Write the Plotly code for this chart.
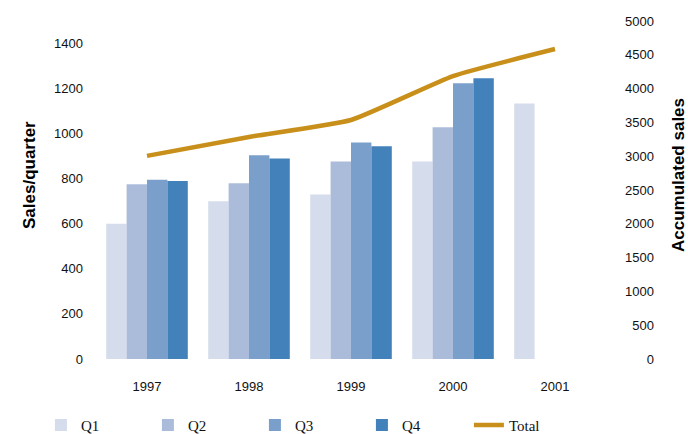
import plotly.graph_objects as go

years = ["1997", "1998", "1999", "2000", "2001"]
q1 = [600, 700, 730, 877, 1134]
q2 = [775, 780, 877, 1028, None]
q3 = [795, 904, 961, 1224, None]
q4 = [790, 890, 944, 1246, None]
total = [3005, 3285, 3535, 4185, 4585]

series_names = ["Q1", "Q2", "Q3", "Q4"]
bar_colors = ["#D5DCEC", "#ABBCDB", "#7B9FCB", "#4381BB"]
line_color = "#C8901A"

left_ticks = list(range(0, 1401, 200))
right_ticks = list(range(0, 5001, 500))

fig = go.Figure()
for name, vals, col in zip(series_names, [q1, q2, q3, q4], bar_colors):
    fig.add_trace(go.Bar(x=years, y=vals, name=name, marker=dict(color=col, line=dict(width=0))))

fig.add_trace(go.Scatter(x=years, y=total, name="Total", mode="lines", yaxis="y2",
                         line=dict(color=line_color, width=4.5, shape="spline", smoothing=0.45)))

tick_font = dict(family="Liberation Sans, Arial, sans-serif", size=13, color="#111111")

fig.update_layout(
    width=688, height=434,
    margin=dict(l=96, r=82, t=21, b=75, autoexpand=False),
    paper_bgcolor="white", plot_bgcolor="white",
    barmode="group", bargap=0.2, bargroupgap=0,
    showlegend=True,
    legend=dict(orientation="h", x=-0.108, xanchor="left", y=-0.196, yanchor="middle",
                entrywidth=62, entrywidthmode="pixels",
                font=dict(family="Liberation Serif, Times New Roman, serif", size=15, color="#111111"),
                bgcolor="rgba(0,0,0,0)"),
    xaxis=dict(type="category", showline=False, showgrid=False, zeroline=False, ticks="",
               tickfont=tick_font, ticklabelstandoff=18),
    yaxis=dict(range=[0, 1500], tickvals=left_ticks, showgrid=False, zeroline=False, showline=False,
               ticks="", tickfont=tick_font, ticklabelstandoff=12),
    yaxis2=dict(range=[0, 5000], overlaying="y", side="right", tickvals=right_ticks,
                ticktext=[str(v).rjust(4, "\u2007") for v in right_ticks],
                showgrid=False, zeroline=False, showline=False, ticks="",
                tickfont=tick_font, ticklabelstandoff=18),
    annotations=[
        dict(text="<b>Sales/quarter</b>", textangle=-90, xref="paper", yref="paper",
             x=(29 - 96) / 510, y=(359 - 175) / 338, xanchor="center", yanchor="middle",
             showarrow=False, font=dict(family="Liberation Sans, Arial, sans-serif", size=17, color="#000000")),
        dict(text="<b>Accumulated sales</b>", textangle=-90, xref="paper", yref="paper",
             x=(678 - 96) / 510, y=(359 - 175) / 338, xanchor="center", yanchor="middle",
             showarrow=False, font=dict(family="Liberation Sans, Arial, sans-serif", size=17, color="#000000")),
    ],
)

fig.write_html("out.html")
